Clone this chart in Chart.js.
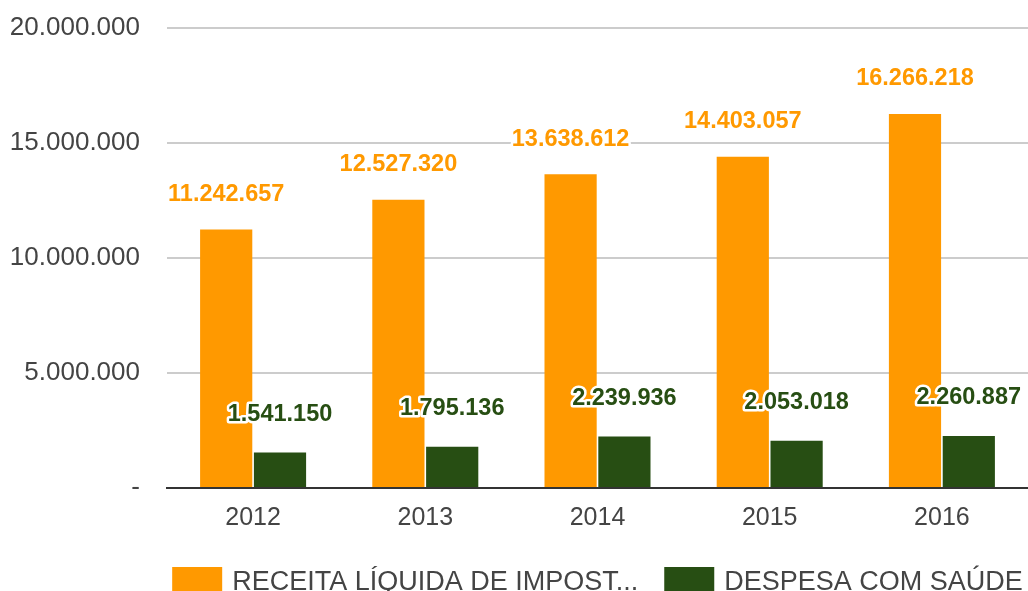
<!DOCTYPE html>
<html>
<head>
<meta charset="utf-8">
<script src="https://cdn.jsdelivr.net/npm/chart.js@4.4.1/dist/chart.umd.min.js"></script>
<style>
  html, body { margin: 0; padding: 0; background: #fff; overflow: hidden; }
  #wrap { width: 1028px; height: 591px; }
</style>
</head>
<body>
<div id="wrap"><canvas id="chart_1" width="1028" height="591"></canvas></div>
<script>
// data
var years = ['2012', '2013', '2014', '2015', '2016'];
var receita = [11242657, 12527320, 13638612, 14403057, 16266218];
var despesa = [1541150, 1795136, 2239936, 2053018, 2260887];
var seriesNames = ['RECEITA LÍQUIDA DE IMPOST...', 'DESPESA COM SAÚDE'];
var yTicks = [0, 5000000, 10000000, 15000000, 20000000];

var orange = '#ff9900';
var green = '#274e13';
var fontFamily = '"Liberation Sans", Arial, sans-serif';

function formatBR(v){
  if(v === 0) return '-';
  return String(Math.round(v)).replace(/\B(?=(\d{3})+(?!\d))/g, '.');
}

// value labels above each bar, white halo like the original
var barLabels = {
  id: 'barLabels',
  afterDatasetsDraw: function(chart){
    var ctx = chart.ctx;
    ctx.save();
    ctx.font = 'bold 23.5px ' + fontFamily;
    ctx.textAlign = 'center';
    ctx.textBaseline = 'middle';
    ctx.lineJoin = 'round';
    chart.data.datasets.forEach(function(ds, di){
      var meta = chart.getDatasetMeta(di);
      var off = di === 0 ? 35 : 38;
      meta.data.forEach(function(bar, i){
        var txt = formatBR(ds.data[i]);
        ctx.lineWidth = 5;
        ctx.strokeStyle = '#fff';
        ctx.strokeText(txt, bar.x, bar.y - off);
        ctx.fillStyle = ds.backgroundColor;
        ctx.fillText(txt, bar.x, bar.y - off);
      });
    });
    ctx.restore();
  }
};

// legend centred under the plot area (bottom is cut off in the original)
var bottomLegend = {
  id: 'bottomLegend',
  afterDraw: function(chart){
    var ctx = chart.ctx;
    var area = chart.chartArea;
    ctx.save();
    ctx.font = '27px ' + fontFamily;
    ctx.textBaseline = 'top';
    var boxW = 50, gapText = 10, gapItem = 26;
    var widths = seriesNames.map(function(n){ return boxW + gapText + ctx.measureText(n).width; });
    var total = widths[0] + widths[1] + gapItem;
    var x = (area.left + area.right) / 2 - total / 2;
    var y = 567;
    chart.data.datasets.forEach(function(ds, i){
      ctx.fillStyle = ds.backgroundColor;
      ctx.fillRect(x, y, boxW, 30);
      ctx.fillStyle = '#444';
      ctx.fillText(seriesNames[i], x + boxW + gapText, y + 2);
      x += widths[i] + gapItem;
    });
    ctx.restore();
  }
};

var ctx_1 = document.getElementById('chart_1').getContext('2d');
var chart_1 = new Chart(ctx_1, {
  type: 'bar',
  data: {
    labels: years,
    datasets: [{
      label: seriesNames[0],
      data: receita,
      backgroundColor: orange,
      categoryPercentage: 0.625,
      barPercentage: 0.97
    }, {
      label: seriesNames[1],
      data: despesa,
      backgroundColor: green,
      categoryPercentage: 0.625,
      barPercentage: 0.97
    }]
  },
  options: {
    responsive: false,
    animation: false,
    layout: {
      padding: { left: 0, right: 0, top: 28, bottom: 43 }
    },
    plugins: {
      legend: { display: false },
      tooltip: { enabled: false }
    },
    scales: {
      x: {
        grid: { display: false, drawTicks: false },
        border: { color: '#333', width: 2 },
        ticks: {
          color: '#444',
          padding: 15,
          font: { size: 25, family: fontFamily }
        }
      },
      y: {
        min: 0,
        max: 20000000,
        afterFit: function(scale){
          scale.width = 167;
          // tick padding would otherwise push the plot area down
          scale.paddingTop = 0;
          scale.paddingBottom = 0;
        },
        afterBuildTicks: function(scale){
          scale.ticks = yTicks.map(function(v){ return { value: v }; });
        },
        grid: { color: '#ccc', lineWidth: 2, drawTicks: false },
        border: { display: false },
        ticks: {
          color: '#444',
          padding: 27,
          font: { size: 26, family: fontFamily },
          callback: function(v){ return formatBR(v); }
        }
      }
    }
  },
  plugins: [barLabels, bottomLegend]
});
</script>
</body>
</html>
